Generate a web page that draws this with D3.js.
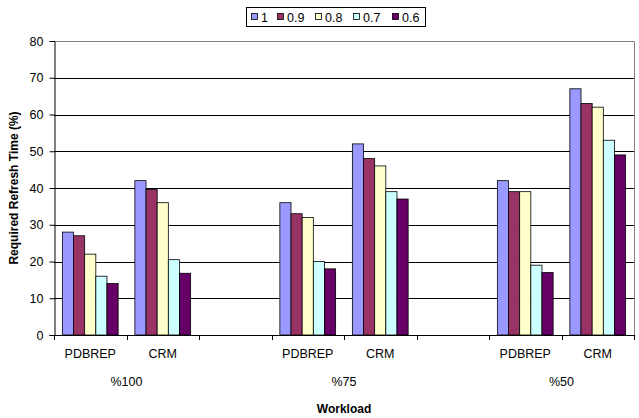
<!DOCTYPE html>
<html>
<head>
<meta charset="utf-8">
<script src="https://cdn.jsdelivr.net/npm/d3@7"></script>
<style>
  html, body { margin: 0; padding: 0; background: #fff; }
  svg { display: block; font-family: "Liberation Sans", Arial, sans-serif; }
</style>
</head>
<body>
<svg id="chart" width="639" height="418"></svg>
<script>
// Category slots along the x axis (blank slots separate the workload groups)
const slots = ["PDBREP", "CRM", "", "PDBREP", "CRM", "", "PDBREP", "CRM"];
const groups = ["%100", "%75", "%50"];
const groupSlots = [[0, 1], [3, 4], [6, 7]];
const seriesNames = ["1", "0.9", "0.8", "0.7", "0.6"];
const seriesColors = ["#9999FF", "#993366", "#FFFFCC", "#CCFFFF", "#660066"];

// Required refresh time (%) per series, one value per slot (null = blank slot)
const s1  = [28, 42,   null, 36, 52, null, 42, 67];
const s09 = [27, 39.6, null, 33, 48, null, 39, 63];
const s08 = [22, 36,   null, 32, 46, null, 39, 62];
const s07 = [16, 20.5, null, 20, 39, null, 19, 53];
const s06 = [14, 16.8, null, 18, 37, null, 17, 49];
const seriesValues = [s1, s09, s08, s07, s06];

const yTicks = [0, 10, 20, 30, 40, 50, 60, 70, 80];

const svg = d3.select("#chart");
const plot = { left: 54, right: 634, top: 41, bottom: 335 };

const x = d3.scaleBand()
  .domain(d3.range(slots.length))
  .range([plot.left, plot.right]);

// gap width 150% → bars fill 5/6.5 of each slot
const inner = d3.scaleBand()
  .domain(d3.range(seriesNames.length))
  .range([0, x.bandwidth() * 5 / 6.5]);
const offset = (x.bandwidth() - x.bandwidth() * 5 / 6.5) / 2;

const y = d3.scaleLinear().domain([0, 80]).range([plot.bottom, plot.top]);

// Horizontal gridlines
svg.append("g")
  .selectAll("line")
  .data(yTicks.filter(d => d > 0 && d < 80))
  .join("line")
  .attr("x1", plot.left).attr("x2", plot.right)
  .attr("y1", d => Math.round(y(d)) + 0.5).attr("y2", d => Math.round(y(d)) + 0.5)
  .attr("stroke", "#000").attr("stroke-width", 1);

// Plot area border (top and right in gray)
svg.append("path")
  .attr("d", `M${plot.left},${Math.round(plot.top) + 0.5}H${plot.right + 0.5}V${plot.bottom}`)
  .attr("fill", "none").attr("stroke", "#808080").attr("stroke-width", 1);

// Bars
const barData = [];
seriesValues.forEach((vals, si) => {
  vals.forEach((v, ci) => {
    if (v != null) barData.push({ si, ci, v });
  });
});
svg.append("g")
  .selectAll("rect")
  .data(barData)
  .join("rect")
  .attr("x", d => x(d.ci) + offset + inner(d.si))
  .attr("y", d => y(d.v))
  .attr("width", inner.bandwidth())
  .attr("height", d => y(0) - y(d.v))
  .attr("fill", d => seriesColors[d.si])
  .attr("stroke", "#000").attr("stroke-width", 0.8);

// Y axis
const yAxis = d3.axisLeft(y).tickValues(yTicks).tickSize(5).tickPadding(6);
const gy = svg.append("g")
  .attr("transform", `translate(${plot.left + 0.5},0)`)
  .call(yAxis);
gy.select(".domain").attr("stroke", "#000");
gy.selectAll(".tick line").attr("stroke", "#000");
gy.selectAll(".tick text")
  .attr("font-size", 12.5).attr("fill", "#000")
  .attr("font-family", "Liberation Sans, Arial, sans-serif");

// X axis: ticks on slot boundaries
const boundaries = d3.range(slots.length + 1).map(i => plot.left + i * x.step());
const gx = svg.append("g");
gx.append("line")
  .attr("x1", plot.left).attr("x2", plot.right + 0.5)
  .attr("y1", plot.bottom + 0.5).attr("y2", plot.bottom + 0.5)
  .attr("stroke", "#000");
gx.selectAll("line.tk")
  .data(boundaries)
  .join("line").attr("class", "tk")
  .attr("x1", d => Math.round(d) + 0.5).attr("x2", d => Math.round(d) + 0.5)
  .attr("y1", plot.bottom).attr("y2", plot.bottom + 5)
  .attr("stroke", "#000");

// Category labels
gx.selectAll("text.cat")
  .data(slots.map((s, i) => ({ s, i })).filter(d => d.s))
  .join("text").attr("class", "cat")
  .attr("x", d => x(d.i) + x.bandwidth() / 2)
  .attr("y", 358)
  .attr("text-anchor", "middle")
  .attr("font-size", 12.5)
  .text(d => d.s);

// Group labels
gx.selectAll("text.grp")
  .data(groups.map((g, i) => ({ g, i })))
  .join("text").attr("class", "grp")
  .attr("x", d => (x(groupSlots[d.i][0]) + x(groupSlots[d.i][1]) + x.bandwidth()) / 2)
  .attr("y", 386)
  .attr("text-anchor", "middle")
  .attr("font-size", 12.5)
  .text(d => d.g);

// Axis titles
svg.append("text")
  .attr("x", (plot.left + plot.right) / 2 + 54 / 2 - 27)
  .attr("y", 413)
  .attr("text-anchor", "middle")
  .attr("font-size", 12).attr("font-weight", "bold")
  .text("Workload");

svg.append("text")
  .attr("transform", `translate(18,${(plot.top + plot.bottom) / 2}) rotate(-90)`)
  .attr("text-anchor", "middle")
  .attr("font-size", 12).attr("font-weight", "bold")
  .text("Required Refresh Time (%)");

// Legend
const legend = svg.append("g");
legend.append("rect")
  .attr("x", 246.5).attr("y", 7.5).attr("width", 179).attr("height", 19)
  .attr("fill", "#fff").attr("stroke", "#000");
const legendX = [251, 277, 315, 353, 392];
const items = legend.selectAll("g.item")
  .data(seriesNames.map((n, i) => ({ n, i })))
  .join("g").attr("class", "item")
  .attr("transform", d => `translate(${legendX[d.i]},0)`);
items.append("rect")
  .attr("x", 0.5).attr("y", 13.5).attr("width", 6).attr("height", 6)
  .attr("fill", d => seriesColors[d.i]).attr("stroke", "#000").attr("stroke-width", 0.8);
items.append("text")
  .attr("x", 10).attr("y", 21.5)
  .attr("font-size", 12.5)
  .text(d => d.n);
</script>
</body>
</html>
